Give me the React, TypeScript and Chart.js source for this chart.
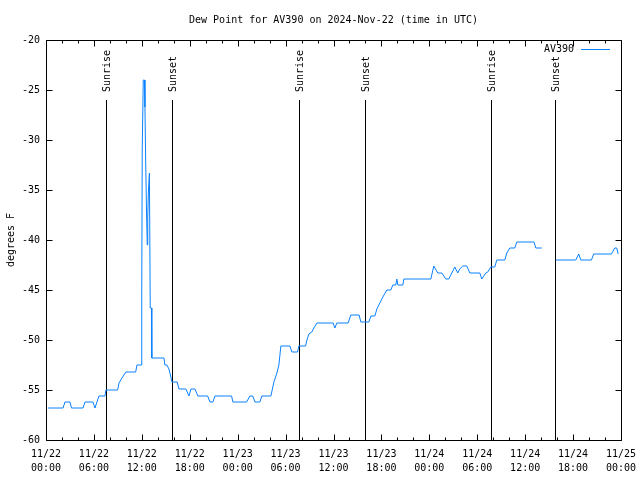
import React, { useEffect, useRef } from "react";
import { Chart, registerables } from "chart.js";

Chart.register(...registerables);

// Hours since 2024-11-22 00:00 UTC
const hours: number[] = [
  0.25, 2.13, 2.38, 3.0, 3.19, 4.63, 4.88, 5.88, 6.13, 6.63, 7.38, 7.5, 8.97, 9.14, 9.51, 10.01, 11.23, 11.39, 11.95,
  11.99, 12.05, 12.18, 12.33, 12.39, 12.48, 12.6, 12.68, 12.74, 12.83, 12.95, 13.05, 13.2, 13.25, 14.77, 14.89, 15.14,
  15.39, 15.58, 15.77, 16.43, 16.65, 17.52, 17.9, 18.15, 18.65, 19.02, 20.24, 20.53, 20.9, 21.15, 23.24, 23.4, 25.12,
  25.53, 25.9, 26.16, 26.78, 27.03, 28.16, 28.54, 28.91, 29.16, 29.41, 30.54, 30.79, 31.5, 31.66, 32.5, 32.67, 32.92,
  33.29, 33.54, 33.92, 35.96, 36.17, 36.42, 37.83, 38.17, 39.21, 39.42, 40.43, 40.68, 41.18, 41.43, 41.8, 42.18, 42.68,
  43.18, 43.43, 43.8, 43.93, 44.06, 44.68, 44.81, 48.19, 48.56, 49.06, 49.56, 50.06, 50.44, 51.19, 51.56, 51.81, 52.19,
  52.69, 53.07, 54.32, 54.57, 55.07, 55.32, 55.69, 56.19, 56.45, 57.45, 57.7, 58.07, 58.7, 58.95, 61.11, 61.33, 62.08,
  63.0, 63.83, 66.33, 66.71, 66.96, 68.3, 68.58, 70.8, 71.21, 71.46, 71.65,
];
const dewF: (number | null)[] = [
  -56.8, -56.8, -56.2, -56.2, -56.8, -56.8, -56.2, -56.2, -56.8, -55.6, -55.6, -55.0, -55.0, -54.3, -53.8, -53.2, -53.2,
  -52.5, -52.5, -45.3, -31.0, -24.0, -24.0, -26.7, -32.0, -37.7, -40.5, -37.7, -35.0, -33.3, -46.8, -46.8, -51.8, -51.8,
  -52.5, -52.5, -52.9, -53.5, -54.2, -54.2, -54.9, -54.9, -55.6, -54.9, -54.9, -55.6, -55.6, -56.2, -56.2, -55.6, -55.6,
  -56.2, -56.2, -55.6, -55.6, -56.2, -56.2, -55.6, -55.6, -54.2, -53.3, -52.5, -50.6, -50.6, -51.2, -51.2, -50.6, -50.6,
  -50.0, -49.4, -49.2, -48.8, -48.3, -48.3, -48.8, -48.3, -48.3, -47.5, -47.5, -48.2, -48.2, -47.6, -47.6, -46.9, -46.3,
  -45.7, -45.0, -45.0, -44.5, -44.5, -43.9, -44.5, -44.5, -43.9, -43.9, -42.6, -43.3, -43.3, -43.9, -43.9, -42.7, -43.3,
  -42.9, -42.6, -42.6, -43.3, -43.3, -43.9, -43.3, -43.2, -42.7, -42.7, -42.0, -42.0, -41.3, -40.8, -40.8, -40.2, -40.2,
  -40.8, -40.8, null, -42.0, -42.0, -41.4, -42.0, -42.0, -41.4, -41.4, -40.8, -40.8, -41.4,
];

const sunHours: number[] = [7.51, 15.81, 31.66, 39.92, 55.66, 63.79];
const sunLabels: string[] = ["Sunrise", "Sunset", "Sunrise", "Sunset", "Sunrise", "Sunset"];

const xTickDates: string[] = ["11/22", "11/22", "11/22", "11/22", "11/23", "11/23", "11/23", "11/23", "11/24", "11/24", "11/24", "11/24", "11/25"];
const xTickTimes: string[] = ["00:00", "06:00", "12:00", "18:00", "00:00", "06:00", "12:00", "18:00", "00:00", "06:00", "12:00", "18:00", "00:00"];

const titleText = "Dew Point for AV390 on 2024-Nov-22 (time in UTC)";
const seriesName = "AV390";
const yTitle = "degrees F";

const FONT = "'DejaVu Sans Mono', monospace";
const LINE_COLOR = "#0a80ff";

const overlay = {
  id: "overlay",
  beforeDatasetsDraw(chart: any) {
    const { ctx, chartArea: a, scales } = chart;
    const x = scales.x;
    ctx.save();
    ctx.strokeStyle = "#000";
    ctx.lineWidth = 1;
    ctx.fillStyle = "#000";
    ctx.font = `10px ${FONT}`;
    sunHours.forEach((h, i) => {
      const px = Math.round(x.getPixelForValue(h)) + 0.5;
      ctx.beginPath();
      ctx.moveTo(px, a.top + 60);
      ctx.lineTo(px, a.bottom);
      ctx.stroke();
      ctx.save();
      ctx.translate(px + 1, a.top + 52);
      ctx.rotate(-Math.PI / 2);
      ctx.textAlign = "left";
      ctx.textBaseline = "middle";
      ctx.fillText(sunLabels[i], 0, 0);
      ctx.restore();
    });
    ctx.restore();
  },
  afterDraw(chart: any) {
    const { ctx, chartArea: a, scales } = chart;
    const x = scales.x;
    const y = scales.y;
    const L = Math.round(a.left) + 0.5;
    const R = Math.round(a.right) + 0.5;
    const T = Math.round(a.top) + 0.5;
    const B = Math.round(a.bottom) + 0.5;
    ctx.save();
    ctx.strokeStyle = "#000";
    ctx.lineWidth = 1;
    ctx.beginPath();
    ctx.rect(L, T, R - L, B - T);
    ctx.stroke();
    // x ticks (inward, top and bottom)
    for (let h = 0; h <= 72; h += 2) {
      const px = Math.round(x.getPixelForValue(h)) + 0.5;
      const len = h % 6 === 0 ? 6 : 3;
      ctx.beginPath();
      ctx.moveTo(px, B);
      ctx.lineTo(px, B - len);
      ctx.moveTo(px, T);
      ctx.lineTo(px, T + len);
      ctx.stroke();
    }
    // y ticks (inward, left and right)
    for (let v = -60; v <= -20; v += 5) {
      const py = Math.round(y.getPixelForValue(v)) + 0.5;
      ctx.beginPath();
      ctx.moveTo(L, py);
      ctx.lineTo(L + 6, py);
      ctx.moveTo(R, py);
      ctx.lineTo(R - 6, py);
      ctx.stroke();
    }
    ctx.fillStyle = "#000";
    ctx.font = `10px ${FONT}`;
    // title
    ctx.textAlign = "center";
    ctx.textBaseline = "middle";
    ctx.fillText(titleText, (a.left + a.right) / 2, 20);
    // y title
    ctx.save();
    ctx.translate(11, (a.top + a.bottom) / 2);
    ctx.rotate(-Math.PI / 2);
    ctx.textAlign = "center";
    ctx.textBaseline = "middle";
    ctx.fillText(yTitle, 0, 0);
    ctx.restore();
    // legend
    ctx.textAlign = "right";
    ctx.textBaseline = "middle";
    ctx.fillText(seriesName, a.right - 47, a.top + 9);
    ctx.strokeStyle = LINE_COLOR;
    ctx.beginPath();
    ctx.moveTo(a.right - 40, a.top + 9.5);
    ctx.lineTo(a.right - 11, a.top + 9.5);
    ctx.stroke();
    ctx.restore();
  },
};

export default function App() {
  const ref = useRef<HTMLCanvasElement>(null);
  useEffect(() => {
    if (!ref.current) return;
    const points = hours.map((h, i) => ({ x: h, y: dewF[i] }));
    const chart = new Chart(ref.current, {
      type: "line",
      data: {
        datasets: [
          {
            label: seriesName,
            data: points as any,
            borderColor: LINE_COLOR,
            borderWidth: 1,
            pointRadius: 0,
            tension: 0,
            spanGaps: false,
            fill: false,
          },
        ],
      },
      options: {
        responsive: false,
        animation: false,
        devicePixelRatio: 1,
        layout: { padding: { top: 40, right: 19, left: 0, bottom: 0 } },
        plugins: {
          legend: { display: false },
          title: { display: false },
          tooltip: { enabled: false },
        },
        scales: {
          x: {
            type: "linear",
            min: 0,
            max: 72,
            grid: { display: false, drawTicks: false },
            border: { display: false },
            ticks: {
              stepSize: 6,
              autoSkip: false,
              maxRotation: 0,
              minRotation: 0,
              padding: 7,
              color: "#000",
              font: { family: FONT, size: 10, lineHeight: 1.4 },
              callback: (value: any) => {
                const i = Math.round(Number(value) / 6);
                return [xTickDates[i], xTickTimes[i]];
              },
            },
            afterFit: (s: any) => {
              s.height = 40;
              s.paddingLeft = 0;
              s.paddingRight = 0;
            },
          },
          y: {
            type: "linear",
            min: -60,
            max: -20,
            grid: { display: false, drawTicks: false },
            border: { display: false },
            ticks: {
              stepSize: 5,
              padding: 6,
              color: "#000",
              font: { family: FONT, size: 10 },
            },
            afterFit: (s: any) => {
              s.width = 46;
              s.paddingTop = 0;
              s.paddingBottom = 0;
            },
          },
        },
      },
      plugins: [overlay],
    });
    return () => chart.destroy();
  }, []);
  return (
    <div style={{ position: "fixed", left: 0, top: 0, width: 640, height: 480, background: "#fff" }}>
      <canvas ref={ref} width={640} height={480} style={{ display: "block" }} />
    </div>
  );
}
